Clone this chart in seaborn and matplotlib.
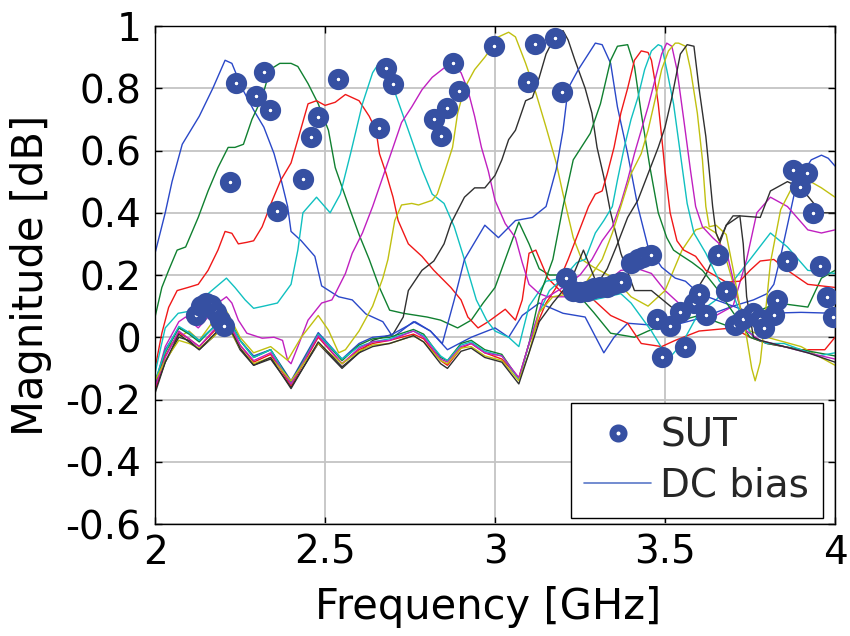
import matplotlib
matplotlib.use("Agg")
import matplotlib.pyplot as plt
import pandas as pd
import seaborn as sns
from matplotlib.lines import Line2D
from matplotlib.ticker import FixedLocator, FuncFormatter

# ---------------- measured responses, one trace per DC bias step ----------------
c1_freq = [2.00, 2.03, 2.05, 2.08, 2.13, 2.17, 2.206, 2.226, 2.256, 2.29, 2.32, 2.35, 2.37, 2.39, 2.40,
           2.43, 2.47, 2.49, 2.54, 2.58, 2.62, 2.67, 2.70, 2.76, 2.81, 2.86, 2.93, 3.00, 3.04, 3.08,
           3.13, 3.20, 3.265, 3.32, 3.35, 3.39, 3.45, 3.53, 3.60, 3.65, 3.70, 3.76, 3.80, 3.82, 3.84,
           3.86, 3.88, 3.90, 3.93, 3.96, 3.98, 4.00]
c1_mag = [0.27, 0.40, 0.50, 0.62, 0.71, 0.80, 0.89, 0.88, 0.80, 0.73, 0.675, 0.59, 0.51, 0.42, 0.34,
          0.31, 0.26, 0.165, 0.13, 0.12, 0.075, 0.05, 0.0, 0.05, 0.02, -0.04, 0.0, 0.03, 0.0, 0.07,
          0.11, 0.077, 0.065, -0.05, 0.0, 0.045, 0.04, 0.04, 0.06, 0.08, 0.10, 0.12, 0.14, 0.17, 0.26,
          0.36, 0.46, 0.52, 0.57, 0.585, 0.575, 0.55]

c2_freq = [2.00, 2.02, 2.04, 2.065, 2.09, 2.127, 2.156, 2.185, 2.215, 2.235, 2.26, 2.285, 2.315, 2.338,
           2.367, 2.40, 2.42, 2.45, 2.48, 2.51, 2.53, 2.57, 2.60, 2.63, 2.66, 2.69, 2.73, 2.80, 2.84,
           2.89, 2.93, 2.965, 3.00, 3.04, 3.07, 3.10, 3.13, 3.16, 3.20, 3.25, 3.29, 3.34, 3.41, 3.45,
           3.50, 3.60, 3.65, 3.70, 3.74, 3.78, 3.83, 3.92, 3.96, 4.00]
c2_mag = [0.065, 0.16, 0.215, 0.28, 0.29, 0.385, 0.47, 0.545, 0.61, 0.61, 0.62, 0.70, 0.77, 0.86,
          0.88, 0.88, 0.87, 0.815, 0.75, 0.665, 0.545, 0.42, 0.33, 0.25, 0.16, 0.087, 0.077, 0.065, 0.055,
          0.03, 0.055, 0.11, 0.16, 0.28, 0.37, 0.30, 0.22, 0.20, 0.20, 0.13, 0.08, 0.013, 0.0, 0.02,
          0.04, 0.07, 0.05, 0.03, 0.03, 0.087, 0.11, 0.097, 0.19, 0.215]

c3_freq = [2.00, 2.02, 2.04, 2.065, 2.097, 2.127, 2.156, 2.185, 2.206, 2.226, 2.245, 2.27, 2.29, 2.315,
           2.345, 2.37, 2.40, 2.42, 2.45, 2.475, 2.50, 2.53, 2.56, 2.60, 2.63, 2.65, 2.66, 2.68, 2.70,
           2.715, 2.745, 2.785, 2.82, 2.87, 2.90, 2.92, 2.95, 2.98, 3.03, 3.06, 3.08, 3.10, 3.12, 3.155,
           3.20, 3.29, 3.34, 3.39, 3.43, 3.49, 3.53, 3.60, 3.70, 3.75, 3.80, 3.90, 3.97, 4.00]
c3_mag = [-0.10, 0.013, 0.096, 0.15, 0.16, 0.17, 0.215, 0.28, 0.34, 0.334, 0.30, 0.305, 0.31, 0.355,
          0.44, 0.505, 0.56, 0.635, 0.75, 0.76, 0.745, 0.755, 0.78, 0.76, 0.71, 0.665, 0.59, 0.525, 0.45,
          0.375, 0.30, 0.26, 0.215, 0.16, 0.12, 0.065, 0.03, 0.05, 0.09, 0.055, 0.12, 0.27, 0.28, 0.19,
          0.14, 0.12, 0.07, 0.045, -0.02, -0.03, -0.01, 0.02, 0.03, 0.0, -0.02, -0.04, -0.04, 0.0]

c4_freq = [2.00, 2.03, 2.068, 2.118, 2.156, 2.21, 2.235, 2.265, 2.29, 2.32, 2.36, 2.40, 2.42, 2.435,
           2.475, 2.515, 2.545, 2.575, 2.61, 2.64, 2.655, 2.69, 2.745, 2.785, 2.815, 2.85, 2.88, 2.91,
           2.945, 2.975, 3.00, 3.04, 3.07, 3.10, 3.15, 3.20, 3.24, 3.29, 3.37, 3.40, 3.46, 3.51, 3.55,
           3.60, 3.65, 3.70, 3.75, 3.81, 3.86, 3.92, 4.00]
c4_mag = [-0.115, 0.03, 0.077, 0.087, 0.14, 0.19, 0.16, 0.12, 0.093, 0.10, 0.11, 0.17, 0.28, 0.40,
          0.45, 0.40, 0.46, 0.59, 0.75, 0.85, 0.875, 0.835, 0.665, 0.54, 0.46, 0.43, 0.355, 0.25,
          0.12, 0.055, 0.02, 0.0, -0.03, 0.10, 0.18, 0.19, 0.17, 0.12, 0.14, 0.11, 0.02, -0.07, -0.02,
          0.08, 0.12, 0.18, 0.25, 0.335, 0.29, 0.215, 0.205]

c5_freq = [2.00, 2.03, 2.07, 2.09, 2.127, 2.156, 2.185, 2.21, 2.226, 2.245, 2.27, 2.315, 2.35, 2.375,
           2.39, 2.40, 2.42, 2.45, 2.49, 2.52, 2.53, 2.56, 2.58, 2.61, 2.64, 2.67, 2.70, 2.725, 2.755,
           2.785, 2.815, 2.85, 2.88, 2.90, 2.92, 2.94, 2.96, 2.98, 3.00, 3.03, 3.06, 3.08, 3.10, 3.13,
           3.155, 3.215, 3.275, 3.32, 3.37, 3.42, 3.46, 3.50, 3.55, 3.60, 3.65, 3.70, 3.74, 3.77, 3.81,
           3.86, 3.92, 3.96, 4.00]
c5_mag = [-0.15, -0.03, 0.05, 0.065, 0.03, 0.065, 0.11, 0.13, 0.11, 0.055, 0.013, -0.003, 0.0, -0.01,
          -0.074, -0.085, -0.03, 0.055, 0.11, 0.12, 0.14, 0.205, 0.27, 0.335, 0.42, 0.515, 0.61, 0.69, 0.74,
          0.795, 0.835, 0.865, 0.87, 0.85, 0.795, 0.71, 0.61, 0.535, 0.44, 0.365, 0.32, 0.24, 0.17, 0.14,
          0.13, 0.13, 0.15, 0.17, 0.215, 0.22, 0.205, 0.15, 0.10, 0.08, 0.07, 0.10, 0.25, 0.40, 0.45,
          0.42, 0.345, 0.335, 0.345]

c6_freq = [2.00, 2.03, 2.07, 2.10, 2.13, 2.17, 2.21, 2.25, 2.29, 2.34, 2.39, 2.43, 2.48, 2.51, 2.54,
           2.56, 2.60, 2.64, 2.67, 2.685, 2.705, 2.725, 2.755, 2.775, 2.815, 2.83, 2.85, 2.875, 2.89,
           2.91, 2.94, 2.97, 2.99, 3.01, 3.04, 3.06, 3.09, 3.12, 3.15, 3.18, 3.20, 3.23, 3.255, 3.29,
           3.35, 3.40, 3.45, 3.50, 3.55, 3.59, 3.62, 3.65, 3.68, 3.72, 3.75, 3.80, 3.90, 4.00]
c6_mag = [-0.15, -0.04, 0.0, 0.02, -0.01, 0.05, 0.085, 0.0, -0.05, -0.03, -0.074, 0.0, 0.07, 0.023, -0.05,
          -0.04, 0.02, 0.10, 0.19, 0.25, 0.375, 0.425, 0.43, 0.425, 0.44, 0.46, 0.525, 0.61, 0.72,
          0.80, 0.86, 0.90, 0.93, 0.965, 0.98, 0.965, 0.88, 0.785, 0.675, 0.56, 0.46, 0.32, 0.25, 0.225,
          0.19, 0.13, 0.10, 0.15, 0.28, 0.345, 0.355, 0.335, 0.25, 0.10, 0.02, 0.0, -0.03, -0.09]

c7_freq = [2.00, 2.03, 2.07, 2.10, 2.13, 2.17, 2.21, 2.25, 2.29, 2.34, 2.40, 2.48, 2.55, 2.60, 2.64,
           2.70, 2.73, 2.745, 2.785, 2.82, 2.85, 2.87, 2.91, 2.94, 2.97, 3.00, 3.02, 3.04, 3.06, 3.09,
           3.11, 3.13, 3.15, 3.18, 3.20, 3.215, 3.235, 3.265, 3.285, 3.30, 3.32, 3.34, 3.37, 3.41, 3.46,
           3.53, 3.58, 3.62, 3.66, 3.68, 3.72, 3.78, 3.81, 3.86, 3.90, 3.93, 3.96, 4.00]
c7_mag = [-0.17, -0.08, 0.0, -0.01, -0.04, 0.0, 0.05, -0.04, -0.09, -0.07, -0.16, -0.02, -0.10, -0.05, -0.01,
          0.01, 0.065, 0.15, 0.215, 0.245, 0.30, 0.365, 0.45, 0.48, 0.48, 0.52, 0.57, 0.635, 0.665, 0.76,
          0.77, 0.835, 0.91, 0.975, 0.985, 0.955, 0.89, 0.80, 0.72, 0.61, 0.515, 0.40, 0.27, 0.15, 0.15,
          0.087, 0.13, 0.20, 0.30, 0.36, 0.39, 0.385, 0.47, 0.50, 0.48, 0.44, 0.40, 0.40]

c8_freq = [2.00, 2.03, 2.07, 2.10, 2.13, 2.17, 2.21, 2.25, 2.29, 2.34, 2.40, 2.48, 2.55, 2.60, 2.64,
           2.69, 2.765, 2.81, 2.845, 2.88, 2.91, 2.97, 3.01, 3.06, 3.11, 3.15, 3.18, 3.20, 3.215, 3.245,
           3.295, 3.315, 3.34, 3.36, 3.39, 3.42, 3.45, 3.49, 3.53, 3.56, 3.60, 3.65, 3.70, 3.75, 3.80,
           3.90, 4.00]
c8_mag = [-0.15, -0.04, 0.03, 0.015, -0.01, 0.03, 0.07, -0.01, -0.06, -0.04, -0.14, 0.015, -0.07, -0.02,
          0.0, 0.005, 0.05, 0.02, -0.02, 0.12, 0.25, 0.36, 0.32, 0.375, 0.385, 0.42, 0.54, 0.665, 0.80,
          0.86, 0.945, 0.94, 0.88, 0.74, 0.59, 0.42, 0.29, 0.225, 0.19, 0.18, 0.14, 0.12, 0.10, 0.08,
          0.077, 0.08, 0.077]

c9_freq = [2.00, 2.03, 2.07, 2.10, 2.13, 2.17, 2.21, 2.25, 2.29, 2.34, 2.40, 2.48, 2.55, 2.60, 2.64,
           2.69, 2.76, 2.79, 2.84, 2.86, 2.90, 2.93, 2.97, 3.02, 3.07, 3.10, 3.13, 3.17, 3.20, 3.23,
           3.28, 3.31, 3.34, 3.36, 3.39, 3.41, 3.43, 3.455, 3.48, 3.505, 3.525, 3.545, 3.58, 3.61, 3.65,
           3.70, 3.75, 3.80, 3.90, 4.00]
c9_mag = [-0.16, -0.05, 0.03, 0.01, -0.015, 0.03, 0.075, -0.01, -0.065, -0.04, -0.145, 0.01, -0.075, -0.025,
          -0.005, 0.0, 0.025, 0.01, -0.065, -0.075, -0.02, -0.01, -0.04, -0.055, -0.135, -0.02, 0.13, 0.25,
          0.42, 0.57, 0.655, 0.75, 0.89, 0.935, 0.94, 0.87, 0.72, 0.55, 0.40, 0.32, 0.28, 0.265, 0.24,
          0.215, 0.16, 0.08, 0.0, -0.02, -0.04, -0.06]

c10_freq = [2.00, 2.03, 2.07, 2.10, 2.13, 2.17, 2.21, 2.25, 2.29, 2.34, 2.40, 2.48, 2.55, 2.60, 2.64,
            2.69, 2.76, 2.79, 2.84, 2.86, 2.90, 2.93, 2.97, 3.02, 3.07, 3.10, 3.15, 3.18, 3.215, 3.245,
            3.275, 3.295, 3.315, 3.33, 3.35, 3.37, 3.39, 3.41, 3.43, 3.45, 3.46, 3.47, 3.48, 3.49, 3.50,
            3.515, 3.535, 3.555, 3.59, 3.62, 3.68, 3.72, 3.75, 3.78, 3.82, 3.86, 3.92, 4.00]
c10_mag = [-0.17, -0.06, 0.015, -0.005, -0.03, 0.015, 0.06, -0.025, -0.08, -0.055, -0.155, 0.0, -0.085,
           -0.04, -0.02, -0.01, 0.01, -0.005, -0.075, -0.09, -0.035, -0.02, -0.05, -0.07, -0.13, -0.02,
           0.11, 0.16, 0.25, 0.335, 0.42, 0.46, 0.47, 0.525, 0.61, 0.72, 0.80, 0.89, 0.92, 0.915, 0.89,
           0.825, 0.75, 0.645, 0.535, 0.40, 0.31, 0.28, 0.26, 0.215, 0.177, 0.18, 0.215, 0.245, 0.25,
           0.215, 0.17, 0.16]

c11_freq = [2.00, 2.03, 2.07, 2.10, 2.13, 2.17, 2.21, 2.25, 2.29, 2.34, 2.40, 2.48, 2.55, 2.60, 2.64,
            2.69, 2.76, 2.79, 2.84, 2.86, 2.90, 2.93, 2.97, 3.02, 3.07, 3.10, 3.13, 3.16, 3.20, 3.24,
            3.265, 3.295, 3.32, 3.345, 3.36, 3.38, 3.40, 3.42, 3.44, 3.46, 3.48, 3.49, 3.505, 3.525,
            3.545, 3.565, 3.585, 3.62, 3.66, 3.70, 3.73, 3.76, 3.80, 3.85, 3.90, 3.95, 4.00]
c11_mag = [-0.14, -0.045, 0.035, 0.015, -0.01, 0.03, 0.07, -0.01, -0.065, -0.04, -0.15, 0.01, -0.07, -0.03,
           -0.015, -0.005, 0.02, 0.005, -0.06, -0.075, -0.025, -0.015, -0.045, -0.06, -0.135, -0.02, 0.08,
           0.15, 0.19, 0.24, 0.25, 0.335, 0.375, 0.42, 0.505, 0.61, 0.70, 0.77, 0.86, 0.92, 0.94, 0.935,
           0.86, 0.75, 0.59, 0.43, 0.335, 0.27, 0.18, 0.14, 0.05, 0.0, -0.02, -0.02, -0.04, -0.06, -0.05]

c12_freq = [2.00, 2.03, 2.07, 2.10, 2.13, 2.17, 2.21, 2.25, 2.29, 2.34, 2.40, 2.48, 2.55, 2.60, 2.64,
            2.69, 2.76, 2.79, 2.84, 2.86, 2.90, 2.93, 2.97, 3.02, 3.07, 3.10, 3.14, 3.20, 3.25, 3.285,
            3.315, 3.345, 3.37, 3.39, 3.41, 3.43, 3.45, 3.47, 3.49, 3.505, 3.52, 3.535, 3.555, 3.575,
            3.59, 3.61, 3.64, 3.68, 3.71, 3.74, 3.78, 3.85, 3.92, 4.00]
c12_mag = [-0.16, -0.065, 0.02, -0.005, -0.03, 0.02, 0.065, -0.025, -0.075, -0.05, -0.15, 0.005, -0.085,
           -0.035, -0.015, -0.01, 0.02, 0.0, -0.07, -0.08, -0.03, -0.02, -0.05, -0.06, -0.13, -0.02, 0.12,
           0.16, 0.20, 0.25, 0.31, 0.355, 0.43, 0.505, 0.59, 0.665, 0.74, 0.825, 0.91, 0.945, 0.935, 0.86,
           0.70, 0.535, 0.42, 0.355, 0.32, 0.28, 0.14, 0.02, -0.01, -0.03, -0.05, -0.07]

c13_freq = [2.00, 2.03, 2.07, 2.10, 2.13, 2.17, 2.21, 2.25, 2.29, 2.34, 2.40, 2.48, 2.55, 2.60, 2.64,
            2.69, 2.76, 2.79, 2.84, 2.86, 2.90, 2.93, 2.97, 3.02, 3.07, 3.10, 3.13, 3.17, 3.22, 3.27,
            3.315, 3.345, 3.37, 3.40, 3.43, 3.45, 3.47, 3.49, 3.51, 3.53, 3.54, 3.56, 3.575, 3.595, 3.61,
            3.62, 3.63, 3.65, 3.68, 3.70, 3.72, 3.74, 3.755, 3.765, 3.78, 3.79, 3.81, 3.84, 3.88, 3.92,
            3.96, 4.00]
c13_mag = [-0.14, -0.075, -0.01, -0.02, -0.035, 0.0, 0.04, -0.035, -0.085, -0.065, -0.14, -0.02, -0.085, -0.045,
           -0.025, -0.02, 0.005, -0.015, -0.075, -0.085, -0.035, -0.03, -0.06, -0.075, -0.14, -0.05, 0.08, 0.13,
           0.14, 0.18, 0.25, 0.335, 0.42, 0.525, 0.59, 0.665, 0.76, 0.86, 0.92, 0.945, 0.945, 0.935, 0.86,
           0.72, 0.57, 0.42, 0.355, 0.36, 0.33, 0.22, 0.10, 0.0, -0.10, -0.14, -0.08, 0.02, 0.24, 0.41,
           0.495, 0.505, 0.48, 0.45]

c14_freq = [2.00, 2.03, 2.07, 2.10, 2.13, 2.17, 2.21, 2.25, 2.29, 2.34, 2.40, 2.48, 2.55, 2.60, 2.64,
            2.69, 2.76, 2.79, 2.84, 2.86, 2.90, 2.93, 2.97, 3.02, 3.07, 3.10, 3.13, 3.17, 3.20, 3.23,
            3.26, 3.30, 3.33, 3.36, 3.39, 3.42, 3.45, 3.48, 3.50, 3.52, 3.545, 3.565, 3.585, 3.60, 3.62,
            3.63, 3.64, 3.65, 3.66, 3.68, 3.70, 3.72, 3.73, 3.74, 3.76, 3.78, 3.85, 3.92, 4.00]
c14_mag = [-0.18, -0.08, 0.01, -0.015, -0.04, 0.005, 0.05, -0.035, -0.09, -0.065, -0.165, -0.015, -0.095,
           -0.05, -0.03, -0.02, 0.005, -0.015, -0.085, -0.1, -0.045, -0.035, -0.065, -0.08, -0.15, -0.05,
           0.05, 0.11, 0.15, 0.20, 0.28, 0.17, 0.22, 0.30, 0.385, 0.44, 0.525, 0.61, 0.675, 0.77, 0.91,
           0.94, 0.935, 0.80, 0.645, 0.535, 0.42, 0.335, 0.31, 0.36, 0.39, 0.39, 0.30, 0.13, 0.0, -0.01,
           -0.03, -0.05, -0.08]

# SUT measurement points
sut_freq = [2.12, 2.135, 2.15, 2.165, 2.18, 2.19, 2.203, 2.22, 2.238, 2.297, 2.32, 2.338, 2.36, 2.436,
            2.459, 2.48, 2.537, 2.66, 2.68, 2.70, 2.82, 2.84, 2.86, 2.877, 2.894, 2.997, 3.098, 3.118,
            3.176, 3.196, 3.21, 3.23, 3.25, 3.27, 3.29, 3.31, 3.33, 3.35, 3.37, 3.40, 3.42, 3.435, 3.46,
            3.475, 3.49, 3.515, 3.545, 3.56, 3.585, 3.60, 3.62, 3.655, 3.68, 3.705, 3.73, 3.76, 3.78,
            3.79, 3.82, 3.83, 3.86, 3.877, 3.897, 3.917, 3.935, 3.955, 3.975, 3.995]
sut_mag = [0.07, 0.10, 0.11, 0.105, 0.08, 0.055, 0.035, 0.50, 0.816, 0.775, 0.852, 0.73, 0.405, 0.508,
           0.643, 0.707, 0.83, 0.672, 0.865, 0.813, 0.70, 0.646, 0.736, 0.88, 0.79, 0.935, 0.82, 0.942,
           0.96, 0.788, 0.19, 0.15, 0.145, 0.15, 0.157, 0.16, 0.16, 0.17, 0.177, 0.24, 0.25, 0.257, 0.265,
           0.06, -0.064, 0.035, 0.08, -0.03, 0.11, 0.14, 0.07, 0.264, 0.148, 0.04, 0.06, 0.077, 0.06,
           0.03, 0.07, 0.12, 0.245, 0.537, 0.482, 0.527, 0.40, 0.23, 0.13, 0.065]

x_ticks = [2, 2.5, 3, 3.5, 4]
y_ticks = [-0.6, -0.4, -0.2, 0, 0.2, 0.4, 0.6, 0.8, 1]

# MATLAB-style colour order, cycled over the bias steps
color_order = ["#2a48c8", "#108030", "#f01818", "#10c0c0", "#c020c0", "#c0c010", "#303030"]
sut_color = "#3650a2"

traces = [(c1_freq, c1_mag), (c2_freq, c2_mag), (c3_freq, c3_mag), (c4_freq, c4_mag),
          (c5_freq, c5_mag), (c6_freq, c6_mag), (c7_freq, c7_mag), (c8_freq, c8_mag),
          (c9_freq, c9_mag), (c10_freq, c10_mag), (c11_freq, c11_mag), (c12_freq, c12_mag),
          (c13_freq, c13_mag), (c14_freq, c14_mag)]

frames = []
palette = {}
for k, (f, m) in enumerate(traces):
    name = f"bias {k + 1}"
    frames.append(pd.DataFrame({"freq": f, "mag": m, "bias": name}))
    palette[name] = color_order[k % len(color_order)]
df = pd.concat(frames, ignore_index=True)

sns.set_style("whitegrid")
plt.rcParams["font.family"] = ["DejaVu Sans"]

fig = plt.figure(figsize=(8.5, 6.36), dpi=100)
ax = fig.add_axes([0.1824, 0.1761, 0.8, 0.783])

sns.lineplot(data=df, x="freq", y="mag", hue="bias", palette=palette, estimator=None,
             sort=False, legend=False, linewidth=1.0, ax=ax)
sns.scatterplot(x=sut_freq, y=sut_mag, marker="o", s=81, color="white", edgecolor=sut_color,
                linewidth=6.3, legend=False, zorder=5, ax=ax)

ax.set_xlim(2, 4)
ax.set_ylim(-0.6, 1.0)
ax.xaxis.set_major_locator(FixedLocator(x_ticks))
ax.yaxis.set_major_locator(FixedLocator(y_ticks))


def tick_text(v, _pos):
    if abs(v) < 1e-9:
        return "0"
    if abs(v - round(v)) < 1e-9:
        return f"{int(round(v))}"
    return f"{v:.1f}"


ax.xaxis.set_major_formatter(FuncFormatter(tick_text))
ax.yaxis.set_major_formatter(FuncFormatter(tick_text))

ax.set_axisbelow(True)
ax.grid(True, color="#c4c4c4", linewidth=1.3, linestyle="-")
for sp in ax.spines.values():
    sp.set_color("black")
    sp.set_linewidth(1.0)
    sp.set_visible(True)
ax.tick_params(direction="in", length=5, width=1.0, color="black", labelsize=28,
               top=True, right=True, bottom=True, left=True, labelcolor="black")
ax.tick_params(axis="x", pad=7)
ax.tick_params(axis="y", pad=10)

ax.set_xlabel("Frequency [GHz]", fontsize=30, color="black")
ax.set_ylabel("Magnitude [dB]", fontsize=30, color="black")
ax.xaxis.set_label_coords(0.49, -0.125)
ax.yaxis.set_label_coords(-0.152, 0.5)

handles = [Line2D([], [], marker="o", linestyle="", markersize=8, markeredgewidth=5,
                  markerfacecolor="white", markeredgecolor=sut_color),
           Line2D([], [], color="#5a78c8", linewidth=1.2)]
leg = ax.legend(handles, ["SUT", "DC bias"], loc="lower right", bbox_to_anchor=(0.982, 0.012),
                fontsize=28, frameon=True, fancybox=False, framealpha=1.0, edgecolor="black",
                handlelength=1.7, handletextpad=0.25, borderaxespad=0.0, borderpad=0.35,
                labelspacing=0.3)
leg.get_frame().set_linewidth(1.0)

fig.savefig("out.png", dpi=100)
